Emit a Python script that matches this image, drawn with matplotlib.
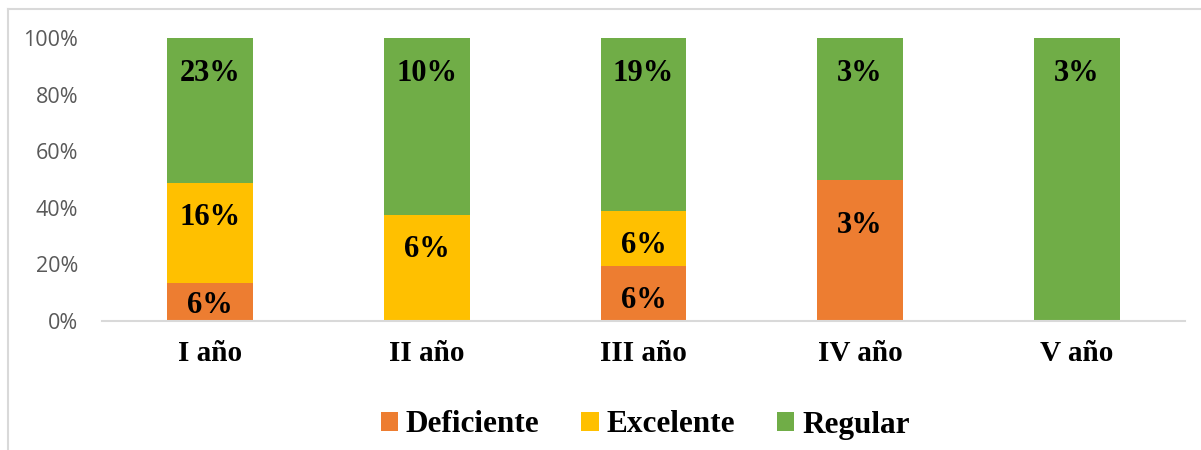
import matplotlib
matplotlib.use("Agg")
import matplotlib.pyplot as plt
from matplotlib.patches import Patch
from matplotlib.lines import Line2D
import numpy as np

categories = ["I año", "II año", "III año", "IV año", "V año"]
series_names = ["Deficiente", "Excelente", "Regular"]
deficiente = [6, 0, 6, 3, 0]
excelente = [16, 6, 6, 0, 0]
regular = [23, 10, 19, 3, 3]
colors = ["#ED7D31", "#FFC000", "#70AD47"]

# label vertical positions (percent of bar), layout only
label_y = {
    "Deficiente": [5.4, None, 7.2, 33.7, None],
    "Excelente": [36.5, 25.2, 26.6, None, None],
    "Regular": [87.4, 87.4, 87.4, 87.4, 87.4],
}

fig = plt.figure(figsize=(12.01, 4.5), dpi=100)
ax = fig.add_axes([102/1201, 129/450, (1185-102)/1201, (321-38)/450])

x = np.arange(len(categories))
data = np.array([deficiente, excelente, regular], dtype=float)
totals = data.sum(axis=0)
pct = data / totals * 100
bottom = np.zeros(len(categories))
for i, name in enumerate(series_names):
    ax.bar(x, pct[i], bottom=bottom, width=0.397, color=colors[i], label=name, zorder=2)
    for j in range(len(categories)):
        if data[i, j] > 0 and label_y[name][j] is not None:
            ax.text(x[j], label_y[name][j], f"{int(data[i, j])}%", ha="center", va="center",
                    fontsize=22, fontweight="bold", family="Liberation Serif", color="black")
    bottom += pct[i]

ax.set_xlim(-0.5, len(categories) - 0.5)
ax.set_ylim(0, 100)
ax.set_yticks([0, 20, 40, 60, 80, 100])
ax.set_yticklabels([f"{v}%" for v in [0, 20, 40, 60, 80, 100]], fontsize=15.5,
                   family="Open Sans", color="#595959")
ax.set_xticks(x)
ax.set_xticklabels(categories, fontsize=21, fontweight="bold", family="Liberation Serif", color="black")
ax.tick_params(axis="both", length=0)
ax.tick_params(axis="y", pad=17)
ax.tick_params(axis="x", pad=14)
for s in ["top", "right", "left"]:
    ax.spines[s].set_visible(False)
ax.spines["bottom"].set_color("#D9D9D9")
ax.spines["bottom"].set_linewidth(1.5)

# chart border (top and left visible)
fig.add_artist(Line2D([8/1201, 1], [1 - 9/450, 1 - 9/450], color="#D9D9D9", lw=1.5, transform=fig.transFigure))
fig.add_artist(Line2D([8/1201, 8/1201], [0, 1 - 9/450], color="#D9D9D9", lw=1.5, transform=fig.transFigure))

handles = [Patch(facecolor=c, edgecolor="none") for c in colors]
fig.legend(handles, series_names, loc="center", bbox_to_anchor=(645/1201, 25/450), ncol=3,
           frameon=False, prop={"family": "Liberation Serif", "weight": "bold", "size": 22.5},
           handlelength=0.55, handleheight=0.55, handletextpad=0.25, columnspacing=1.35)

fig.savefig("out.png", dpi=100, facecolor="white")
